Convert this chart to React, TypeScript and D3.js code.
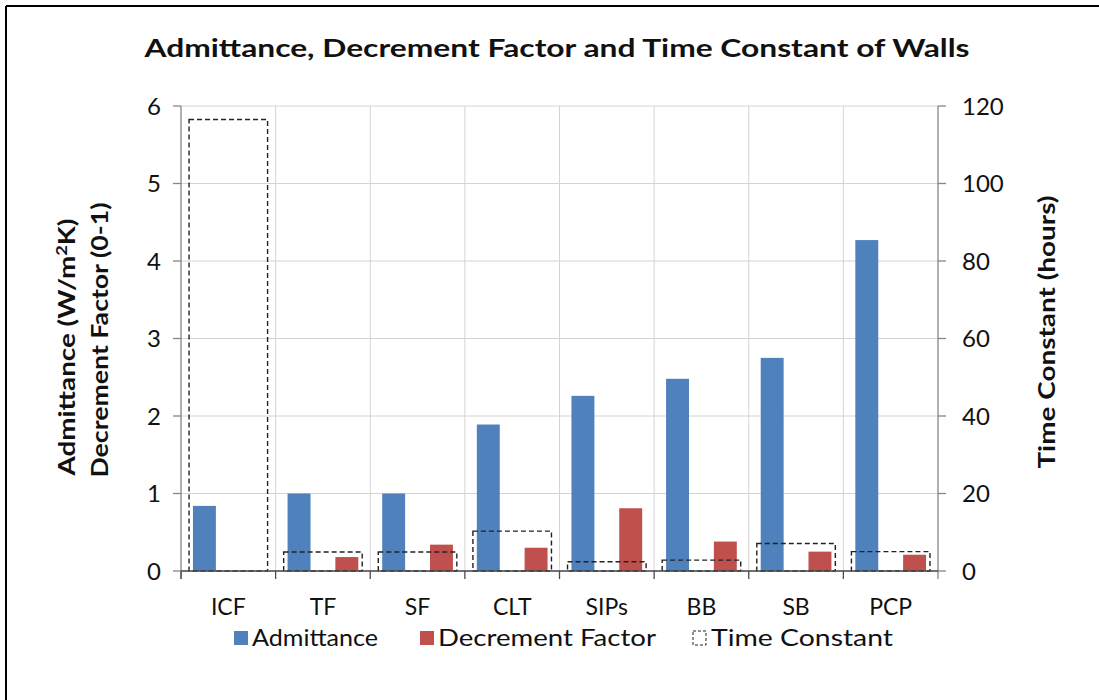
import React from "react";
import * as d3 from "d3";

const categories = ["ICF", "TF", "SF", "CLT", "SIPs", "BB", "SB", "PCP"];
const admittance = [0.84, 1.0, 1.0, 1.89, 2.26, 2.48, 2.75, 4.27];
const decrement = [0, 0.18, 0.34, 0.3, 0.81, 0.38, 0.25, 0.21];
const timeConstant = [116.5, 4.9, 4.9, 10.3, 2.4, 2.8, 7.1, 5.0];
const leftTicks = [0, 1, 2, 3, 4, 5, 6];
const rightTicks = [0, 20, 40, 60, 80, 100, 120];
const seriesNames = ["Admittance", "Decrement Factor"];

const W = 1099;
const H = 700;
const X0 = 181;
const X1 = 938;
const Y0 = 571;
const Y1 = 106;
const BLUE = "#4F81BD";
const RED = "#C0504D";
const FONT = "Lato, 'Open Sans', sans-serif";

export default function App() {
  const x = d3.scaleBand<string>().domain(categories).range([X0, X1]).padding(0);
  const xTC = d3
    .scaleBand<string>()
    .domain(categories)
    .range([X0, X1])
    .paddingInner(0.17)
    .paddingOuter(0.085);
  const xSub = d3
    .scaleBand<string>()
    .domain(seriesNames)
    .range([0, x.step()])
    .paddingInner(0.52)
    .paddingOuter(0.25);
  const yL = d3.scaleLinear().domain([0, 6]).range([Y0, Y1]);
  const yR = d3.scaleLinear().domain([0, 120]).range([Y0, Y1]);

  const legendY = 646;

  return (
    <svg
      width={W}
      height={H}
      style={{ position: "absolute", left: 0, top: 0, background: "#fff" }}
      fontFamily={FONT}
    >
      <rect x={0} y={0} width={W} height={H} fill="#fff" />
      {/* border */}
      <line x1={6} y1={6} x2={W} y2={6} stroke="#000" strokeWidth={2} />
      <line x1={6} y1={6} x2={6} y2={H} stroke="#000" strokeWidth={2} />

      {/* title */}
      <text
        x={557}
        y={57}
        textAnchor="middle"
        fontSize={25}
        fontWeight={700}
        fill="#111"
        textLength={825}
        lengthAdjust="spacingAndGlyphs"
      >
        Admittance, Decrement Factor and Time Constant of Walls
      </text>

      {/* horizontal gridlines */}
      {leftTicks.map((t) => (
        <line
          key={"hg" + t}
          x1={X0}
          x2={X1}
          y1={yL(t)}
          y2={yL(t)}
          stroke="#d4d4d4"
          strokeWidth={1}
        />
      ))}
      {/* vertical gridlines */}
      {categories.map((c, i) =>
        i === 0 ? null : (
          <line
            key={"vg" + c}
            x1={x(c)}
            x2={x(c)}
            y1={Y1}
            y2={Y0}
            stroke="#d4d4d4"
            strokeWidth={1}
          />
        )
      )}

      {/* admittance bars */}
      {categories.map((c, i) => (
        <rect
          key={"a" + c}
          x={(x(c) as number) + (xSub("Admittance") as number)}
          y={yL(admittance[i])}
          width={xSub.bandwidth()}
          height={Y0 - yL(admittance[i])}
          fill={BLUE}
        />
      ))}
      {/* decrement bars */}
      {categories.map((c, i) => (
        <rect
          key={"d" + c}
          x={(x(c) as number) + (xSub("Decrement Factor") as number)}
          y={yL(decrement[i])}
          width={xSub.bandwidth()}
          height={Y0 - yL(decrement[i])}
          fill={RED}
        />
      ))}
      {/* time constant dashed boxes */}
      {categories.map((c, i) => (
        <rect
          key={"t" + c}
          x={xTC(c)}
          y={yR(timeConstant[i])}
          width={xTC.bandwidth()}
          height={Y0 - yR(timeConstant[i])}
          fill="none"
          stroke="#222"
          strokeWidth={1.4}
          strokeDasharray="5,3"
        />
      ))}

      {/* axes */}
      <line x1={X0} x2={X0} y1={Y1} y2={Y0 + 8} stroke="#868686" strokeWidth={1.3} />
      <line x1={X1} x2={X1} y1={Y1} y2={Y0 + 8} stroke="#868686" strokeWidth={1.3} />
      <line x1={X0} x2={X1} y1={Y0} y2={Y0} stroke="#4a4a4a" strokeWidth={1.5} />
      {categories.map((c) => (
        <line
          key={"xt" + c}
          x1={x(c)}
          x2={x(c)}
          y1={Y0}
          y2={Y0 + 8}
          stroke="#4a4a4a"
          strokeWidth={1.3}
        />
      ))}
      {leftTicks.map((t) => (
        <g key={"lt" + t}>
          <line x1={X0 - 8} x2={X0} y1={yL(t)} y2={yL(t)} stroke="#868686" strokeWidth={1.3} />
          <text
            x={161}
            y={yL(t)}
            dy="0.36em"
            textAnchor="end"
            fontSize={24}
            fill="#111"
          >
            {t}
          </text>
        </g>
      ))}
      {rightTicks.map((t) => (
        <g key={"rt" + t}>
          <line x1={X1} x2={X1 + 8} y1={yR(t)} y2={yR(t)} stroke="#868686" strokeWidth={1.3} />
          <text x={962} y={yR(t)} dy="0.36em" textAnchor="start" fontSize={24} fill="#111">
            {t}
          </text>
        </g>
      ))}

      {/* category labels */}
      {categories.map((c) => (
        <text
          key={"cl" + c}
          x={(x(c) as number) + x.bandwidth() / 2}
          y={615}
          textAnchor="middle"
          fontSize={23}
          fill="#111"
        >
          {c}
        </text>
      ))}

      {/* left axis title */}
      <g transform="translate(75,347) rotate(-90)">
        <text
          x={0}
          y={0}
          textAnchor="middle"
          fontSize={23}
          fontWeight={700}
          fill="#111"
          textLength={257}
          lengthAdjust="spacingAndGlyphs"
        >
          Admittance (W/m
          <tspan dy={-8} fontSize={15}>2</tspan>
          <tspan dy={8}>K)</tspan>
        </text>
      </g>
      <g transform="translate(108,340) rotate(-90)">
        <text
          x={0}
          y={0}
          textAnchor="middle"
          fontSize={23}
          fontWeight={700}
          fill="#111"
          textLength={275}
          lengthAdjust="spacingAndGlyphs"
        >
          Decrement Factor (0-1)
        </text>
      </g>
      {/* right axis title */}
      <g transform="translate(1055,332) rotate(-90)">
        <text
          x={0}
          y={0}
          textAnchor="middle"
          fontSize={23}
          fontWeight={700}
          fill="#111"
          textLength={273}
          lengthAdjust="spacingAndGlyphs"
        >
          Time Constant (hours)
        </text>
      </g>

      {/* legend */}
      <rect x={234} y={legendY - 15} width={14} height={14} fill={BLUE} />
      <text
        x={252}
        y={legendY}
        fontSize={24}
        fill="#111"
        textLength={126}
        lengthAdjust="spacingAndGlyphs"
      >
        Admittance
      </text>
      <rect x={420} y={legendY - 15} width={14} height={14} fill={RED} />
      <text
        x={438}
        y={legendY}
        fontSize={24}
        fill="#111"
        textLength={218}
        lengthAdjust="spacingAndGlyphs"
      >
        Decrement Factor
      </text>
      <rect
        x={693}
        y={legendY - 15}
        width={13}
        height={14}
        fill="none"
        stroke="#222"
        strokeWidth={1}
        strokeDasharray="3,2"
      />
      <text
        x={711}
        y={legendY}
        fontSize={24}
        fill="#111"
        textLength={182}
        lengthAdjust="spacingAndGlyphs"
      >
        Time Constant
      </text>
    </svg>
  );
}
